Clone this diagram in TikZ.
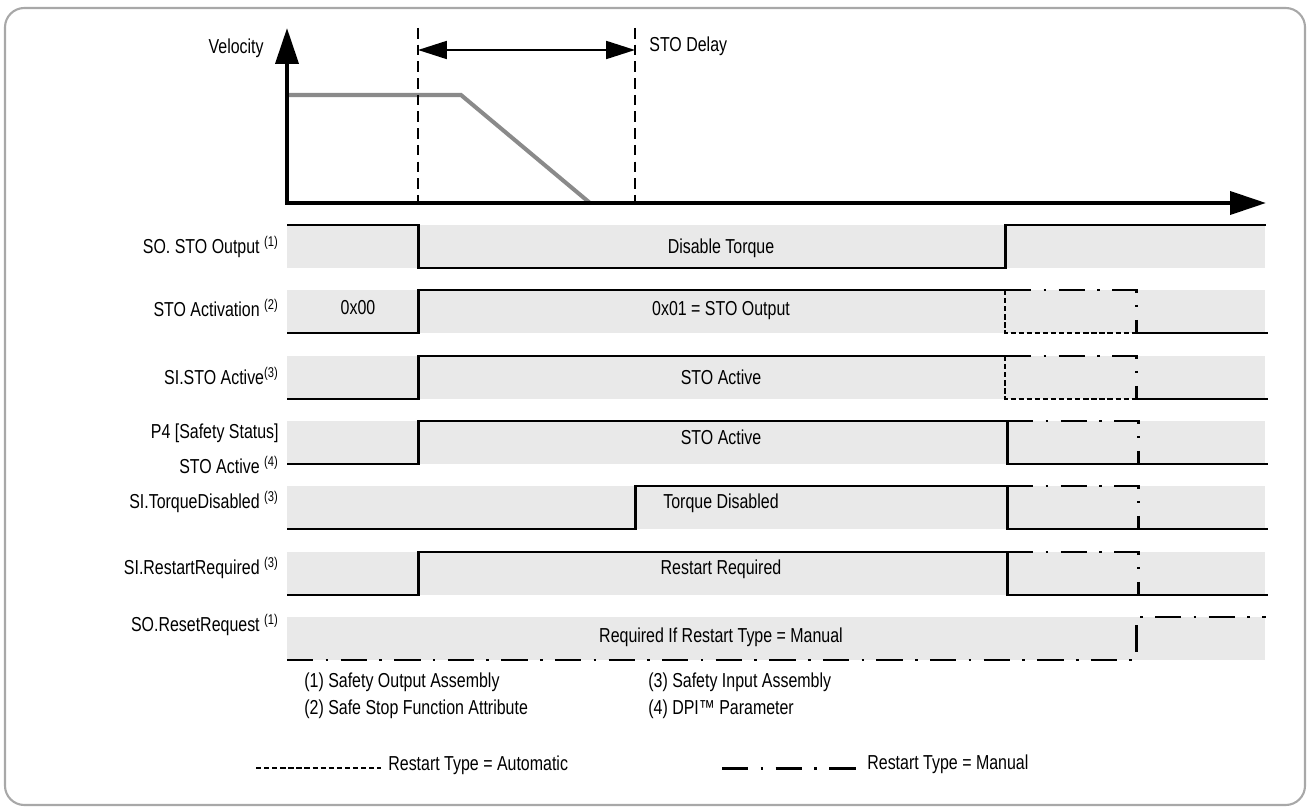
\documentclass[tikz,border=0pt]{standalone}
\usepackage{fontspec}
\setmainfont{Liberation Sans}[FakeStretch=0.79]
\usetikzlibrary{arrows.meta}
\pgfdeclarelayer{bandlayer}
\pgfdeclarelayer{nodelayer}
\pgfsetlayers{bandlayer,main,nodelayer}
\definecolor{bandgrey}{HTML}{E9E9E9}
\definecolor{framegrey}{HTML}{A8A8A8}
\definecolor{speedgrey}{HTML}{8A8A8A}
\tikzstyle{none}=[inner sep=0pt]
\tikzstyle{sig_name}=[inner sep=0pt,anchor=east]
\tikzstyle{note}=[inner sep=0pt,anchor=west]
\tikzstyle{band}=[fill=bandgrey,draw=none]
\tikzstyle{wave}=[line width=1.7pt,line join=miter]
\tikzstyle{auto_line}=[line width=1.4pt,dash pattern=on 3pt off 1.6pt]
\tikzstyle{manual_line}=[line width=1.7pt,dash pattern=on 15pt off 7pt on 1.5pt off 7pt]
\tikzstyle{axis_arrow}=[line width=2.3pt,{Triangle[length=20.4pt,width=13pt]}-{Triangle[length=20.4pt,width=13pt]}]
\tikzstyle{time_mark}=[line width=1.1pt,dash pattern=on 6pt off 3.5pt]
\tikzstyle{delay_arrow}=[line width=1.1pt,{Triangle[length=16.4pt,width=10.2pt]}-{Triangle[length=16.4pt,width=10.2pt]}]
\tikzstyle{speed}=[line width=2.3pt,draw=speedgrey]

\begin{document}
\begin{tikzpicture}[x=0.02cm,y=-0.02cm,font=\fontsize{11.5}{13}\selectfont]
	\useasboundingbox (0,0) rectangle (1310,810);
	\draw [draw=framegrey,line width=1.2pt,rounded corners=11pt] (5,8) rectangle (1305,805);
	\begin{pgfonlayer}{nodelayer}
		% velocity graph
		\coordinate (o) at (287,203);
		\coordinate (ytip) at (287,28);
		\coordinate (xtip) at (1266,203);
		\coordinate (t1top) at (418,28);
		\coordinate (t1) at (418,203);
		\coordinate (t2top) at (635,28);
		\coordinate (t2) at (635,203);
		\coordinate (d1) at (418,50);
		\coordinate (d2) at (635,50);
		\node [style=sig_name] (0) at (264,48) {Velocity};
		\node [style=note] (1) at (649,46) {STO Delay};
		% signal names
		\node [style=sig_name] (2) at (279,247) {SO. STO Output \textsuperscript{(1)}};
		\node [style=sig_name] (3) at (279,308) {STO Activation \textsuperscript{(2)}};
		\node [style=sig_name] (4) at (279,376) {SI.STO Active\textsuperscript{(3)}};
		\node [style=sig_name] (5) at (279,433) {P4 [Safety Status]};
		\node [style=sig_name] (6) at (279,465) {STO Active \textsuperscript{(4)}};
		\node [style=sig_name] (7) at (279,502) {SI.TorqueDisabled \textsuperscript{(3)}};
		\node [style=sig_name] (8) at (279,568) {SI.RestartRequired \textsuperscript{(3)}};
		\node [style=sig_name] (9) at (279,625) {SO.ResetRequest \textsuperscript{(1)}};
		% texts in the bands
		\node [style=none] (10) at (721,248) {Disable Torque};
		\node [style=none] (11) at (358,308) {0x00};
		\node [style=none] (12) at (721,311) {0x01 = STO Output};
		\node [style=none] (13) at (721,377) {STO Active};
		\node [style=none] (14) at (721,437) {STO Active};
		\node [style=none] (15) at (721,503) {Torque Disabled};
		\node [style=none] (16) at (721,569) {Restart Required};
		\node [style=none] (17) at (721,637) {Required If Restart Type = Manual};
		% notes
		\node [style=note] (18) at (304,682) {(1) Safety Output Assembly};
		\node [style=note] (19) at (304,709) {(2) Safe Stop Function Attribute};
		\node [style=note] (20) at (648,682) {(3) Safety Input Assembly};
		\node [style=note] (21) at (648,709) {(4) DPI™ Parameter};
		% legend
		\coordinate (a1) at (256,768);
		\coordinate (a2) at (381,768);
		\coordinate (m1) at (722,768);
		\coordinate (m2) at (859,768);
		\node [style=note] (22) at (388,765) {Restart Type = Automatic};
		\node [style=note] (23) at (867,764) {Restart Type = Manual};
	\end{pgfonlayer}
	\begin{pgfonlayer}{bandlayer}
		\foreach \hi in {225,290,356,421,486,552,617}
			\fill [style=band] (287,\hi) rectangle (1265,\hi+43);
	\end{pgfonlayer}
	% axes and speed
	\draw [style=speed] (287,95) -- (461,95) -- (590,203);
	\draw [style=axis_arrow] (ytip) |- (xtip);
	\draw [style=time_mark] (t1top) -- (t1);
	\draw [style=time_mark] (t2top) -- (t2);
	\draw [style=delay_arrow] (d1) -- (d2);
	% SO. STO Output
	\draw [style=wave] (287,225) -- (418,225) -- (418,268) -- (1005,268) -- (1005,225) -- (1266,225);
	% STO Activation, SI.STO Active
	\foreach \hi in {290,356} {
		\draw [style=wave] (287,\hi+43) -- (418,\hi+43) -- (418,\hi) -- (1005,\hi);
		\draw [style=manual_line] (1005,\hi) -- (1136,\hi) -- (1136,\hi+43);
		\draw [style=auto_line] (1005,\hi) -- (1005,\hi+43) -- (1136,\hi+43);
		\draw [style=wave] (1136,\hi+43) -- (1268,\hi+43);
	}
	% P4, SI.TorqueDisabled, SI.RestartRequired
	\foreach \hi/\up in {421/418,486/635,552/418} {
		\draw [style=wave] (287,\hi+43) -- (\up,\hi+43) -- (\up,\hi) -- (1007,\hi) -- (1007,\hi+43) -- (1268,\hi+43);
		\draw [style=manual_line] (1007,\hi) -- (1138,\hi) -- (1138,\hi+43);
	}
	% SO.ResetRequest
	\draw [style=manual_line] (287,660) -- (1136,660) -- (1136,617) -- (1266,617);
	% legend samples
	\draw [style=auto_line] (a1) -- (a2);
	\draw [style=manual_line] (m1) -- (m2);
\end{tikzpicture}
\end{document}
